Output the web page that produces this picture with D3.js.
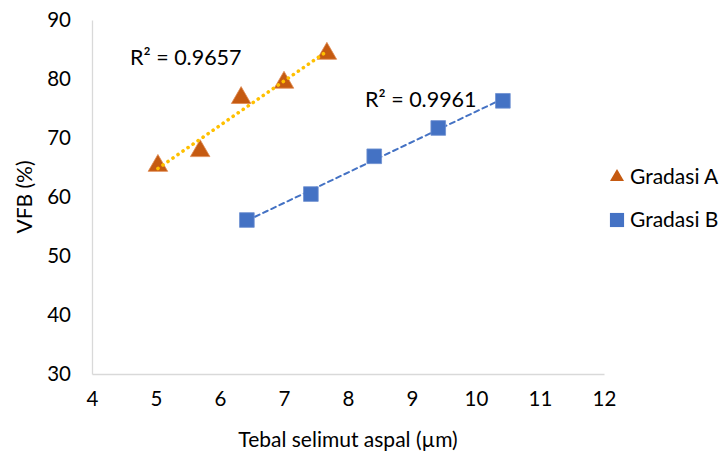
<!DOCTYPE html>
<html>
<head>
<meta charset="utf-8">
<script src="https://cdn.jsdelivr.net/npm/d3@7"></script>
<style>
body { margin: 0; background: #fff; }
text { font-family: Lato, "Open Sans", sans-serif; fill: #000; }
</style>
</head>
<body>
<svg id="chart"></svg>
<script>
// ---------- data ----------
var xTicks = [4, 5, 6, 7, 8, 9, 10, 11, 12];
var yTicks = [30, 40, 50, 60, 70, 80, 90];
var seriesNames = ["Gradasi A", "Gradasi B"];
var gradasiAx = [5.03, 5.69, 6.33, 7.0, 7.67];
var gradasiAy = [65.3, 67.8, 76.8, 79.4, 84.3];
var gradasiBx = [6.42, 7.42, 8.41, 9.41, 10.42];
var gradasiBy = [56.1, 60.5, 66.9, 71.7, 76.3];
var r2Labels = ["R² = 0.9657", "R² = 0.9961"];

var screen = {width: 724, height: 459};
var margins = {left: 92, top: 20, right: 120, bottom: 85};
var graph = {
	width: screen.width - margins.left - margins.right,
	height: screen.height - margins.top - margins.bottom
};

var svg = d3.select("#chart")
	.attr("width", screen.width)
	.attr("height", screen.height);

var xScale = d3.scaleLinear().domain([4, 12]).range([0, graph.width]);
var yScale = d3.scaleLinear().domain([30, 90]).range([graph.height, 0]);

var target = svg.append("g")
	.attr("transform", "translate(" + margins.left + "," + margins.top + ")");

// ---------- axes ----------
var xAxis = d3.axisBottom(xScale).tickValues(xTicks).tickSize(0).tickPadding(17);
var gx = target.append("g")
	.attr("transform", "translate(0," + graph.height + ")")
	.call(xAxis);
var yAxis = d3.axisLeft(yScale).tickValues(yTicks).tickSize(0).tickPadding(21);
var gy = target.append("g").call(yAxis);

[gx, gy].forEach(function (g) {
	g.select(".domain").attr("stroke", "#d9d9d9").attr("stroke-width", 1.3);
	g.selectAll("text").style("font-size", "20.5px").attr("fill", "#000");
});

// ---------- trendlines ----------
var fit = function (xs, ys) {
	var n = xs.length;
	var mx = d3.mean(xs), my = d3.mean(ys);
	var sxy = 0, sxx = 0;
	for (var i = 0; i < n; i++) {
		sxy += (xs[i] - mx) * (ys[i] - my);
		sxx += (xs[i] - mx) * (xs[i] - mx);
	}
	var b = sxy / sxx;
	return {b: b, a: my - b * mx};
};

var drawTrend = function (xs, ys, color, dash, width) {
	var f = fit(xs, ys);
	var x0 = d3.min(xs), x1 = d3.max(xs);
	target.append("line")
		.attr("x1", xScale(x0)).attr("y1", yScale(f.a + f.b * x0))
		.attr("x2", xScale(x1)).attr("y2", yScale(f.a + f.b * x1))
		.attr("stroke", color)
		.attr("stroke-width", width)
		.attr("stroke-dasharray", dash)
		.attr("stroke-linecap", "round");
};

drawTrend(gradasiBx, gradasiBy, "#4472C4", "5,4", 2);

// ---------- points ----------
var tri = d3.symbol().type(d3.symbolTriangle).size(165);
var sq = d3.symbol().type(d3.symbolSquare).size(215);

target.selectAll(".ptA")
	.data(d3.zip(gradasiAx, gradasiAy))
	.enter()
	.append("path")
	.attr("d", tri)
	.attr("transform", function (d) { return "translate(" + xScale(d[0]) + "," + yScale(d[1]) + ")"; })
	.attr("fill", "#C55A11")
	.attr("stroke", "#E08A50")
	.attr("stroke-width", 0.8);

target.selectAll(".ptB")
	.data(d3.zip(gradasiBx, gradasiBy))
	.enter()
	.append("path")
	.attr("d", sq)
	.attr("transform", function (d) { return "translate(" + xScale(d[0]) + "," + yScale(d[1]) + ")"; })
	.attr("fill", "#4472C4")
	.attr("stroke", "#6D8FD0")
	.attr("stroke-width", 0.8);

// dotted line sits on top of triangles
drawTrend(gradasiAx, gradasiAy, "#FFC000", "0.1,6", 3.6);

// ---------- labels ----------
svg.append("text")
	.text(r2Labels[0])
	.attr("x", 130).attr("y", 65)
	.style("font-size", "21.5px");
svg.append("text")
	.text(r2Labels[1])
	.attr("x", 365).attr("y", 107)
	.style("font-size", "21.5px");

svg.append("text")
	.text("Tebal selimut aspal (µm)")
	.attr("text-anchor", "middle")
	.attr("x", 348)
	.attr("y", 447)
	.style("font-size", "21px");

svg.append("text")
	.text("VFB (%)")
	.attr("text-anchor", "middle")
	.attr("transform", "translate(32," + (margins.top + graph.height / 2) + ") rotate(-90)")
	.style("font-size", "21px");

// ---------- legend ----------
var legend = svg.append("g").attr("transform", "translate(617,0)");
legend.append("path")
	.attr("d", d3.symbol().type(d3.symbolTriangle).size(85))
	.attr("transform", "translate(0,177)")
	.attr("fill", "#C55A11");
legend.append("path")
	.attr("d", d3.symbol().type(d3.symbolSquare).size(200))
	.attr("transform", "translate(0,220)")
	.attr("fill", "#4472C4");
legend.selectAll(".lg")
	.data(seriesNames)
	.enter()
	.append("text")
	.text(function (d) { return d; })
	.attr("x", 13)
	.attr("y", function (d, i) { return 184 + i * 43; })
	.style("font-size", "21px");
</script>
</body>
</html>
